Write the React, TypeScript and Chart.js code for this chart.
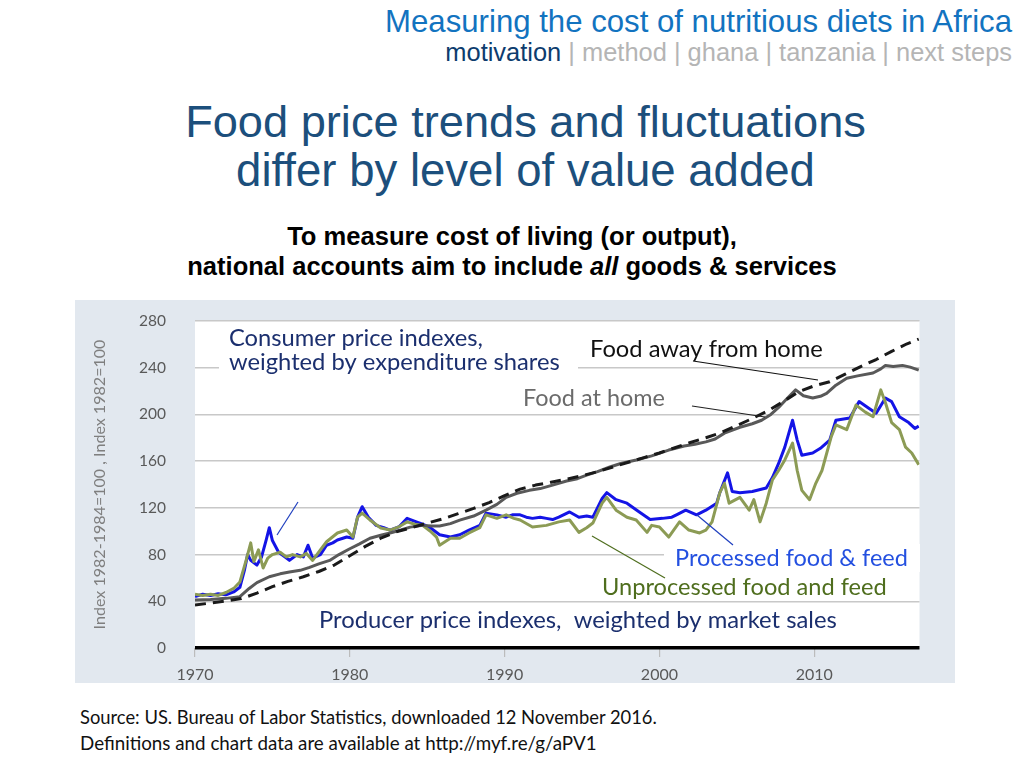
import React, { useEffect, useLayoutEffect, useRef } from "react";
import { Chart, registerables } from "chart.js";

Chart.register(...registerables);

// ---------- data ----------
const xTickYears = [1970, 1980, 1990, 2000, 2010];
const yTickValues = [0, 40, 80, 120, 160, 200, 240, 280];

const awayYears = [1970, 1971, 1972, 1973, 1974, 1975, 1976, 1977, 1978, 1979, 1980, 1981, 1982, 1983, 1984, 1985, 1986, 1987, 1988, 1989, 1990, 1991, 1992, 1993, 1994, 1995, 1996, 1997, 1998, 1999, 2000, 2001, 2002, 2003, 2004, 2005, 2006, 2007, 2008, 2009, 2010, 2011, 2012, 2013, 2014, 2015, 2016, 2016.75];
const awayValues = [36.8, 38.5, 40.3, 42.3, 47, 52.5, 57, 61, 65.5, 71, 79, 87, 94, 99.5, 103, 107, 110.5, 115, 119.5, 124.5, 130.5, 136, 139.5, 142, 144.5, 147.5, 151, 155, 159, 163, 167, 171.5, 176, 180, 184.5, 190.5, 196.5, 203, 211, 219.5, 224.5, 228, 234.5, 241, 247, 254, 260.5, 264.5];

const homeYears = [1970, 1971, 1972, 1972.9, 1973.5, 1974, 1974.8, 1975.5, 1976.1, 1976.8, 1977.4, 1978, 1978.7, 1979.3, 1980, 1980.6, 1981.3, 1982, 1982.6, 1983.3, 1983.9, 1984.7, 1985.3, 1985.8, 1986.5, 1987.1, 1988, 1988.8, 1989.5, 1990.1, 1990.8, 1991.6, 1992.3, 1993.1, 1994, 1994.7, 1995.3, 1996, 1996.8, 1997.5, 1998.5, 1999.5, 2000.6, 2001.6, 2002.3, 2003, 2003.6, 2004.2, 2005.2, 2006, 2006.6, 2007.2, 2007.7, 2008.2, 2008.8, 2009.3, 2009.9, 2010.4, 2010.8, 2011.4, 2012.1, 2012.8, 2013.8, 2014.3, 2014.6, 2015.1, 2015.7, 2016.2, 2016.75];
const homeValues = [41, 41.5, 42.5, 44, 51, 56, 61, 63.5, 65, 66.5, 69, 72, 75, 80, 85, 89, 94, 96.5, 98.5, 101, 103.5, 105, 104.5, 104.5, 106.5, 109.5, 113, 118, 123, 129, 132.5, 135, 136.5, 139.5, 143, 145, 148, 151, 155, 158, 161, 164.5, 169.5, 173, 174.5, 176.5, 179, 184, 189, 192, 195, 200, 206, 213, 221, 216, 214, 215.5, 218, 225, 231, 233, 235.5, 239, 242, 241, 242, 240.5, 238];

const procYears = [1970, 1970.5, 1971, 1971.5, 1972, 1972.5, 1972.9, 1973.2, 1973.4, 1973.6, 1974, 1974.3, 1974.6, 1974.8, 1975, 1975.4, 1975.8, 1976.1, 1976.6, 1977, 1977.3, 1977.6, 1978.1, 1978.5, 1978.9, 1979.2, 1979.8, 1980.2, 1980.5, 1980.8, 1981.2, 1981.7, 1982.2, 1982.6, 1983.2, 1983.7, 1984.3, 1984.7, 1985.2, 1985.8, 1986.5, 1987.1, 1987.7, 1988.4, 1988.8, 1989.5, 1990.1, 1990.5, 1991, 1991.4, 1991.8, 1992.3, 1992.7, 1993.1, 1993.5, 1994.2, 1994.8, 1995.3, 1995.7, 1996.3, 1996.6, 1997.2, 1997.9, 1998.7, 1999.4, 2000.2, 2000.8, 2001.1, 2001.7, 2002.4, 2003, 2003.7, 2003.9, 2004.4, 2004.7, 2005.2, 2006, 2006.9, 2007.3, 2007.7, 2008.1, 2008.6, 2008.9, 2009.2, 2009.9, 2010.4, 2011, 2011.4, 2012.3, 2012.9, 2013.5, 2014, 2014.6, 2015, 2015.5, 2016.1, 2016.5, 2016.75];
const procValues = [44, 46, 45, 46.5, 45.5, 48, 52, 67, 80, 75, 71, 78, 92.5, 103, 92, 82, 78, 75, 80, 78, 88, 77, 80, 88, 90, 92.5, 95, 94, 112, 121, 112, 105, 103, 101, 104, 111, 108, 106, 103, 97, 95, 97, 101, 105, 115.5, 114, 112, 114, 114, 112, 111, 112, 111, 110, 112, 116.5, 112, 113, 112, 128, 133, 127, 124, 116.5, 110, 111, 112, 114, 118, 114, 118, 124, 133, 150, 134, 133, 134, 137, 146, 158, 172, 195, 178, 165, 167, 171, 178, 195, 197, 211, 205.5, 201, 214, 211, 198, 193, 188, 190];

const unprocYears = [1970, 1970.5, 1971, 1971.5, 1972, 1972.5, 1972.9, 1973.3, 1973.6, 1973.8, 1974.1, 1974.4, 1974.7, 1975, 1975.5, 1975.9, 1976.3, 1976.8, 1977.2, 1977.6, 1978.1, 1978.5, 1979.2, 1979.8, 1980.2, 1980.5, 1980.8, 1981.3, 1982, 1982.6, 1983.2, 1983.7, 1984.2, 1984.7, 1985.2, 1985.6, 1985.8, 1986.5, 1987.1, 1987.7, 1988.4, 1988.8, 1989.5, 1990.1, 1990.6, 1991, 1991.8, 1992.7, 1993.5, 1994.2, 1994.8, 1995.3, 1995.7, 1996.3, 1996.6, 1997.2, 1997.9, 1998.5, 1999.2, 1999.5, 2000, 2000.6, 2001.3, 2001.9, 2002.6, 2003, 2003.4, 2003.9, 2004.2, 2004.5, 2005.2, 2005.8, 2006.1, 2006.5, 2006.9, 2007.3, 2007.7, 2008.1, 2008.6, 2008.9, 2009.2, 2009.7, 2010.1, 2010.5, 2011.1, 2011.4, 2012.1, 2012.7, 2013.3, 2013.8, 2014.3, 2014.6, 2015, 2015.5, 2015.9, 2016.3, 2016.75];
const unprocValues = [46, 45, 46, 45, 47.5, 51, 56.5, 75, 90, 74, 84, 68.5, 77, 80, 82, 78, 80, 78, 81, 75, 84, 91, 98.5, 101, 95, 112, 115.5, 109.6, 102.7, 101, 104, 108, 106, 105, 100, 95, 88, 94, 94, 98.5, 103, 114, 111, 114, 111, 109.6, 103.6, 105, 108, 109.6, 99, 103, 107, 124, 129, 118, 112, 109.6, 99, 105, 103.6, 95, 108, 101, 98.5, 101, 108, 133, 141, 124, 129, 118, 127, 108, 124, 144, 152, 161, 175.5, 152, 135, 127, 141, 152, 181, 191, 187, 208, 202, 198, 221, 210, 193, 187, 172, 167, 157];

const yAxisTitle = "Index 1982-1984=100 , Index 1982=100";

// ---------- layout constants ----------
const CANVAS_LEFT = 75;
const CANVAS_TOP = 300;
const CANVAS_W = 880;
const CANVAS_H = 383;
const AREA = { left: 120, top: 21, right: 844.5, bottom: 348 };
const CHART_FONT = "Lato";

function toPoints(xs: number[], ys: number[]) {
  return xs.map((x, i) => ({ x, y: ys[i] }));
}

function fitFont(ctx: CanvasRenderingContext2D, text: string, target: number, family: string, weight = "normal") {
  ctx.font = `${weight} 20px ${family}`;
  const w = ctx.measureText(text).width;
  return (20 * target) / w;
}

function drawFit(ctx: CanvasRenderingContext2D, text: string, px: number, pyBase: number, target: number, color: string) {
  const size = fitFont(ctx, text, target, CHART_FONT);
  ctx.font = `${size}px ${CHART_FONT}`;
  ctx.fillStyle = color;
  ctx.textAlign = "left";
  ctx.textBaseline = "alphabetic";
  ctx.fillText(text, px - CANVAS_LEFT, pyBase - CANVAS_TOP);
}

function pageLine(ctx: CanvasRenderingContext2D, x1: number, y1: number, x2: number, y2: number, color: string) {
  ctx.beginPath();
  ctx.moveTo(x1 - CANVAS_LEFT, y1 - CANVAS_TOP);
  ctx.lineTo(x2 - CANVAS_LEFT, y2 - CANVAS_TOP);
  ctx.strokeStyle = color;
  ctx.lineWidth = 1.2;
  ctx.setLineDash([]);
  ctx.stroke();
}

// pins the plot area to the reference's frame
const fixedAreaPlugin = {
  id: "fixedArea",
  afterLayout(chart: any) {
    chart.chartArea = {
      left: AREA.left,
      top: AREA.top,
      right: AREA.right,
      bottom: AREA.bottom,
      width: AREA.right - AREA.left,
      height: AREA.bottom - AREA.top,
    };
    const xs = chart.scales.x;
    xs.left = AREA.left;
    xs.right = AREA.right;
    xs.top = AREA.bottom;
    xs.bottom = chart.height;
    xs.width = AREA.right - AREA.left;
    xs.height = chart.height - AREA.bottom;
    xs.configure();
    const ys = chart.scales.y;
    ys.left = 0;
    ys.right = AREA.left;
    ys.top = AREA.top;
    ys.bottom = AREA.bottom;
    ys.width = AREA.left;
    ys.height = AREA.bottom - AREA.top;
    ys.configure();
  },
};

const backgroundPlugin = {
  id: "slideBackground",
  beforeDraw(chart: any) {
    const { ctx, chartArea } = chart;
    ctx.save();
    ctx.fillStyle = "#e2e8ef";
    ctx.fillRect(0, 0, chart.width, chart.height);
    ctx.fillStyle = "#ffffff";
    ctx.fillRect(chartArea.left, chartArea.top, chartArea.right - chartArea.left, chartArea.bottom - chartArea.top);
    ctx.restore();
  },
};

const annotationPlugin = {
  id: "slideAnnotations",
  afterDatasetsDraw(chart: any) {
    const ctx: CanvasRenderingContext2D = chart.ctx;
    ctx.save();
    // white label boxes
    ctx.fillStyle = "#ffffff";
    ctx.fillRect(219 - CANVAS_LEFT, 324 - CANVAS_TOP, 578 - 219, 380 - 324);
    ctx.fillRect(664 - CANVAS_LEFT, 544 - CANVAS_TOP, 920 - 664, 572 - 544);
    // pointer lines
    pageLine(ctx, 298, 502, 277, 535, "#1f3fbf");
    pageLine(ctx, 693, 361, 818, 380, "#111111");
    pageLine(ctx, 692, 406, 765, 417, "#222222");
    pageLine(ctx, 592, 536, 665, 578, "#4f6e1e");
    pageLine(ctx, 697, 515, 733, 545, "#1f3fbf");
    // labels
    drawFit(ctx, "Consumer price indexes,", 229, 346, 254, "#1b2f6e");
    drawFit(ctx, "weighted by expenditure shares", 229, 370, 331, "#1b2f6e");
    drawFit(ctx, "Food away from home", 590, 357, 233, "#111111");
    drawFit(ctx, "Food at home", 523, 406, 142, "#6b6b6b");
    drawFit(ctx, "Processed food & feed", 675, 566, 233, "#2450e0");
    drawFit(ctx, "Unprocessed food and feed", 602, 595, 285, "#4f6e1e");
    drawFit(ctx, "Producer price indexes,  weighted by market sales", 319, 628, 518, "#1b2f6e");
    ctx.restore();
  },
};

function ChartBox() {
  const canvasRef = useRef<HTMLCanvasElement>(null);
  useEffect(() => {
    const canvas = canvasRef.current!;
    const mctx = document.createElement("canvas").getContext("2d")!;
    const titleSize = fitFont(mctx, yAxisTitle, 290, CHART_FONT);
    const chart = new Chart(canvas, {
      type: "line",
      data: {
        datasets: [
          {
            label: "Food away from home",
            data: toPoints(awayYears, awayValues),
            borderColor: "#1a1a1a",
            borderWidth: 3,
            borderDash: [11, 7],
            order: 1,
          },
          {
            label: "Food at home",
            data: toPoints(homeYears, homeValues),
            borderColor: "#595959",
            borderWidth: 3,
            order: 2,
          },
          {
            label: "Unprocessed food and feed",
            data: toPoints(unprocYears, unprocValues),
            borderColor: "#8c9b55",
            borderWidth: 3,
            order: 3,
          },
          {
            label: "Processed food & feed",
            data: toPoints(procYears, procValues),
            borderColor: "#1414e6",
            borderWidth: 3,
            order: 4,
          },
        ],
      },
      options: {
        responsive: false,
        animation: false,
        devicePixelRatio: 1,
        layout: { padding: { top: 21, right: 35.5, left: 0, bottom: 0 } },
        elements: { point: { radius: 0 }, line: { tension: 0, borderJoinStyle: "round" } },
        plugins: { legend: { display: false }, tooltip: { enabled: false }, title: { display: false } },
        scales: {
          x: {
            type: "linear",
            min: 1970,
            max: 2016.8,
            afterBuildTicks: (s: any) => {
              s.ticks = xTickYears.map((v) => ({ value: v }));
            },
            afterFit: (s: any) => {
              s.height = 35;
            },
            ticks: {
              callback: (v: any) => String(v),
              color: "#595959",
              font: { family: CHART_FONT, size: 16 },
              padding: 8,
              maxRotation: 0,
              autoSkip: false,
            },
            grid: { drawOnChartArea: false, drawTicks: true, tickLength: 9, color: "#bcbcbc", lineWidth: 1.2 },
            border: { display: false },
          },
          y: {
            type: "linear",
            min: 0,
            max: 280,
            afterBuildTicks: (s: any) => {
              s.ticks = yTickValues.map((v) => ({ value: v }));
            },
            afterFit: (s: any) => {
              s.width = 120;
            },
            ticks: {
              color: "#595959",
              font: { family: CHART_FONT, size: 15.5 },
              padding: 29,
            },
            grid: {
              drawTicks: false,
              color: (c: any) => (c.tick && c.tick.value === 0 ? "#000000" : "#c8c8c8"),
              lineWidth: (c: any) => (c.tick && c.tick.value === 0 ? 3.5 : 1.5),
            },
            border: { display: false },
            title: {
              display: true,
              text: yAxisTitle,
              color: "#7f7f7f",
              font: { family: CHART_FONT, size: titleSize },
              padding: { top: 15, bottom: 0 },
            },
          },
        },
      },
      plugins: [fixedAreaPlugin, backgroundPlugin, annotationPlugin],
    });
    return () => chart.destroy();
  }, []);
  return (
    <canvas
      ref={canvasRef}
      width={CANVAS_W}
      height={CANVAS_H}
      style={{ position: "absolute", left: CANVAS_LEFT, top: CANVAS_TOP, width: CANVAS_W, height: CANVAS_H }}
    />
  );
}

type FitProps = {
  x: number;
  baseline: number;
  width: number;
  align: "left" | "right" | "center";
  family: string;
  weight?: number | string;
  color?: string;
  children: React.ReactNode;
};

function FitText({ x, baseline, width, align, family, weight, color, children }: FitProps) {
  const ref = useRef<HTMLDivElement>(null);
  const mark = useRef<HTMLSpanElement>(null);
  useLayoutEffect(() => {
    const fit = () => {
      const el = ref.current;
      const mk = mark.current;
      if (!el || !mk) return;
      const base = 20;
      el.style.fontSize = base + "px";
      el.style.left = "0px";
      el.style.top = "0px";
      const w = el.getBoundingClientRect().width;
      const fs = (base * width) / w;
      el.style.fontSize = fs + "px";
      const r = el.getBoundingClientRect();
      const m = mk.getBoundingClientRect();
      const left = align === "left" ? x : align === "right" ? x - r.width : x - r.width / 2;
      el.style.left = left + "px";
      el.style.top = baseline - (m.top - r.top) + "px";
    };
    fit();
    if ((document as any).fonts && (document as any).fonts.ready) {
      (document as any).fonts.ready.then(fit);
    }
  }, []);
  return (
    <div
      ref={ref}
      style={{
        position: "absolute",
        left: 0,
        top: 0,
        whiteSpace: "nowrap",
        fontFamily: family,
        fontWeight: weight as any,
        color,
        lineHeight: 1,
      }}
    >
      {children}
      <span ref={mark} style={{ display: "inline-block", width: 0, height: 0 }} />
    </div>
  );
}

const ARIAL = "'Liberation Sans', Arial, sans-serif";
const BODY = "Lato, 'Noto Sans', sans-serif";
const sep = <span style={{ color: "#b5b5b5" }}> | </span>;

export default function App() {
  return (
    <div
      style={{
        position: "fixed",
        left: 0,
        top: 0,
        width: 1024,
        height: 768,
        background: "#ffffff",
        overflow: "hidden",
      }}
    >
      <FitText x={1012} baseline={32} width={627} align="right" family={ARIAL} color="#1273c0">
        Measuring the cost of nutritious diets in Africa
      </FitText>
      <FitText x={1012} baseline={61} width={567} align="right" family={ARIAL} color="#b5b5b5">
        <span style={{ color: "#0d3c6e" }}>motivation</span>
        {sep}method{sep}ghana{sep}tanzania{sep}next steps
      </FitText>
      <FitText x={525.5} baseline={137} width={681} align="center" family={ARIAL} color="#1c4f7c">
        Food price trends and fluctuations
      </FitText>
      <FitText x={525.5} baseline={186} width={579} align="center" family={ARIAL} color="#1c4f7c">
        differ by level of value added
      </FitText>
      <FitText x={512} baseline={245} width={450} align="center" family={ARIAL} weight={700} color="#000000">
        To measure cost of living (or output),
      </FitText>
      <FitText x={512} baseline={275} width={650} align="center" family={ARIAL} weight={700} color="#000000">
        national accounts aim to include <i>all</i> goods &amp; services
      </FitText>
      <ChartBox />
      <FitText x={80} baseline={724} width={577} align="left" family={BODY} color="#111111">
        Source: US. Bureau of Labor Statistics, downloaded 12 November 2016.
      </FitText>
      <FitText x={80} baseline={750} width={517} align="left" family={BODY} color="#111111">
        Definitions and chart data are available at http://myf.re/g/aPV1
      </FitText>
    </div>
  );
}
